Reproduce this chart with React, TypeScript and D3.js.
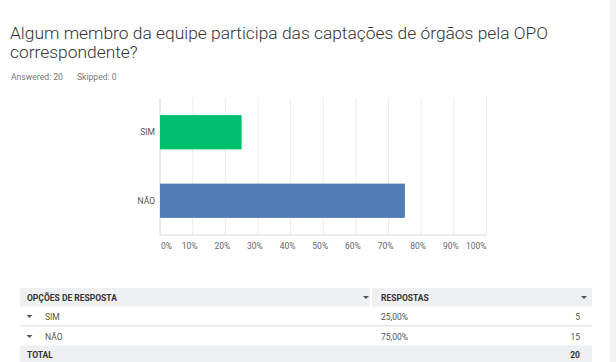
import React from 'react';
import * as d3 from 'd3';

const categories = ['SIM', 'NÃO'];
const percents = [25, 75];
const counts = [5, 15];
const barColors = ['#00bf6f', '#507cb6'];
const ticks = [0, 10, 20, 30, 40, 50, 60, 70, 80, 90, 100];
const percentLabels = ['25,00%', '75,00%'];
const totalCount = 20;

const W = 616;
const H = 362;

// little dropdown caret used in the table
const Caret: React.FC<{ x: number; y: number; color?: string }> = ({ x, y, color = '#555' }) => (
  <path d={`M ${x - 3} ${y - 1.5} L ${x + 3} ${y - 1.5} L ${x} ${y + 1.5} Z`} fill={color} />
);

const App: React.FC = () => {
  const x = d3.scaleLinear().domain([0, 100]).range([160, 486.5]);
  const y = d3.scaleBand<string>().domain(categories).range([98, 235]).paddingInner(0.5).paddingOuter(0.25);

  const font = "Roboto, 'Open Sans', sans-serif";
  const rowY = [307, 327];

  return (
    <svg width={W} height={H} style={{ position: 'absolute', left: 0, top: 0, background: '#fff' }}>
      <rect x={0} y={0} width={W} height={H} fill="#fff" />
      <rect x={610} y={0} width={6} height={H} fill="#f2f2f2" />

      {/* title */}
      <text x={10} y={38.5} fontFamily={font} fontWeight={300} fontSize={17.4} fill="#333">
        Algum membro da equipe participa das captações de órgãos pela OPO
      </text>
      <text x={10} y={57.5} fontFamily={font} fontWeight={300} fontSize={17.4} fill="#333">
        correspondente?
      </text>
      <text x={11} y={80} fontFamily={font} fontSize={8.6} fill="#777">Answered: 20</text>
      <text x={77} y={80} fontFamily={font} fontSize={8.6} fill="#777">Skipped: 0</text>

      {/* grid */}
      {ticks.map((t) => (
        <line key={`g${t}`} x1={x(t)} x2={x(t)} y1={98} y2={235} stroke={t === 0 ? '#d8d8d8' : '#ececec'} strokeWidth={1} />
      ))}
      <line x1={x(0)} x2={x(100)} y1={235} y2={235} stroke="#d8d8d8" />

      {/* bars */}
      {categories.map((c, i) => (
        <g key={c}>
          <rect x={x(0)} y={y(c)} width={x(percents[i]) - x(0)} height={y.bandwidth()} fill={barColors[i]} />
          <text x={155} y={(y(c) as number) + y.bandwidth() / 2 + 3} textAnchor="end" fontFamily={font} fontSize={8.5} fill="#555">
            {c}
          </text>
        </g>
      ))}

      {/* tick labels */}
      {ticks.map((t, i) => (
        <text
          key={`t${t}`}
          x={i === 0 ? x(t) + 1 : i === ticks.length - 1 ? x(t) : x(t) - 3}
          y={249}
          textAnchor={i === 0 ? 'start' : i === ticks.length - 1 ? 'end' : 'middle'}
          fontFamily={font}
          fontSize={8.5}
          fill="#666"
        >
          {t}%
        </text>
      ))}

      {/* table */}
      <rect x={20} y={288} width={350} height={18.5} fill="#eef0f1" />
      <rect x={372} y={288} width={220} height={18.5} fill="#eef0f1" />
      <text x={27} y={300.5} fontFamily={font} fontWeight={700} fontSize={8.5} fill="#333">OPÇÕES DE RESPOSTA</text>
      <Caret x={366} y={297.5} />
      <text x={381} y={300.5} fontFamily={font} fontWeight={700} fontSize={8.5} fill="#333">RESPOSTAS</text>
      <Caret x={584} y={297.5} />

      {categories.map((c, i) => (
        <g key={`r${c}`}>
          <Caret x={29.5} y={rowY[i] + 9.5} />
          <text x={45} y={rowY[i] + 12.5} fontFamily={font} fontSize={8.5} fill="#555">{c}</text>
          <text x={381} y={rowY[i] + 12.5} fontFamily={font} fontSize={8.5} fill="#555">{percentLabels[i]}</text>
          <text x={580} y={rowY[i] + 12.5} textAnchor="end" fontFamily={font} fontSize={8.5} fill="#555">{counts[i]}</text>
        </g>
      ))}
      <rect x={20} y={325} width={572} height={1.5} fill="#e4e6e7" />

      <rect x={20} y={345.5} width={572} height={17} fill="#eef0f1" />
      <text x={27} y={357.5} fontFamily={font} fontWeight={700} fontSize={8.5} fill="#333">TOTAL</text>
      <text x={580} y={357.5} textAnchor="end" fontFamily={font} fontWeight={700} fontSize={8.5} fill="#333">{totalCount}</text>
    </svg>
  );
};

export default App;
